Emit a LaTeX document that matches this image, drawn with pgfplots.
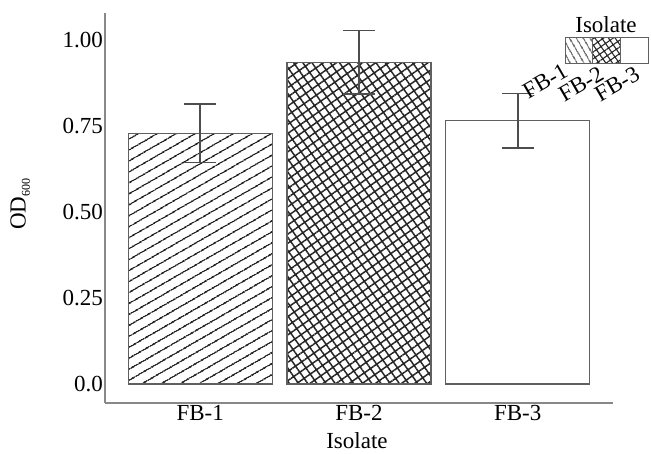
\documentclass[border=0pt]{standalone}
\usepackage{fontspec}
\setmainfont{Liberation Serif}
\usepackage{pgfplots}
\pgfplotsset{compat=1.18}
\usetikzlibrary{patterns.meta}
\definecolor{axgray}{HTML}{888888}
\definecolor{edge}{HTML}{606060}
\definecolor{errc}{HTML}{4D4D4D}
\begin{document}
\begin{tikzpicture}[font=\fontsize{23bp}{27bp}\selectfont]
\useasboundingbox (-105bp,-51bp) rectangle (546bp,403bp);
\begin{axis}[at={(0,0)}, anchor=south west, scale only axis,
  width=508bp, height=390bp,
  xmin=-0.6, xmax=2.6, ymin=-0.055, ymax=1.078,
  axis x line*=bottom, axis y line*=left,
  axis line style={axgray, line width=1.5bp, -},
  xtick={0,1,2}, xticklabels={FB-1,FB-2,FB-3},
  ytick={0,0.25,0.5,0.75,1}, yticklabels={0.0,0.25,0.50,0.75,1.00},
  major tick length=0pt,
  xticklabel style={inner sep=2bp},
  yticklabel style={inner sep=2bp},
  ylabel={OD\raisebox{-0.4ex}{\fontsize{12bp}{14bp}\selectfont 600}},
  xlabel={Isolate},
  every axis y label/.style={at={(axis description cs:-0.167,0.51)}, rotate=90, anchor=center},
  every axis x label/.style={at={(axis description cs:0.496,-0.096)}, anchor=center, inner sep=1bp},
  ybar, bar width=0.906,
]
\addplot[ybar, bar shift=0pt, draw=edge, line width=1.2bp,
  pattern={Lines[angle=30,distance=9.5bp,line width=1.6bp]}, pattern color=black!85,
  error bars/.cd, y dir=both, y explicit, error mark=|,
  error bar style={errc, line width=1.5bp, solid},
  error mark options={errc, line width=1.5bp, mark size=16bp}]
  coordinates {(0,0.728) +- (0,0.085)};
\addplot[ybar, bar shift=0pt, draw=edge, line width=1.2bp,
  pattern={Hatch[angle=35,distance=7.5bp,line width=1.5bp]}, pattern color=black!85,
  error bars/.cd, y dir=both, y explicit, error mark=|,
  error bar style={errc, line width=1.5bp, solid},
  error mark options={errc, line width=1.5bp, mark size=16bp}]
  coordinates {(1,0.935) +- (0,0.092)};
\addplot[ybar, bar shift=0pt, draw=edge, line width=1.2bp, fill=white,
  error bars/.cd, y dir=both, y explicit, error mark=|,
  error bar style={errc, line width=1.5bp, solid},
  error mark options={errc, line width=1.5bp, mark size=16bp}]
  coordinates {(2,0.765) +- (0,0.079)};
\end{axis}
% legend
\node at (501bp,378bp) {Isolate};
\draw[edge, line width=1bp, pattern={Lines[angle=-60,distance=6bp,line width=1.1bp]}, pattern color=black!85] (460bp,339bp) rectangle (487.7bp,365bp);
\draw[edge, line width=1bp, pattern={Hatch[angle=35,distance=5.5bp,line width=1.1bp]}, pattern color=black!85] (487.7bp,339bp) rectangle (515.3bp,365bp);
\draw[edge, line width=1bp, fill=white] (515.3bp,339bp) rectangle (543bp,365bp);
\node[rotate=30, anchor=south west, inner sep=1bp] at (423bp,302bp) {FB-1};
\node[rotate=30, anchor=south west, inner sep=1bp] at (459bp,299bp) {FB-2};
\node[rotate=30, anchor=south west, inner sep=1bp] at (495bp,299bp) {FB-3};
\end{tikzpicture}
\end{document}
